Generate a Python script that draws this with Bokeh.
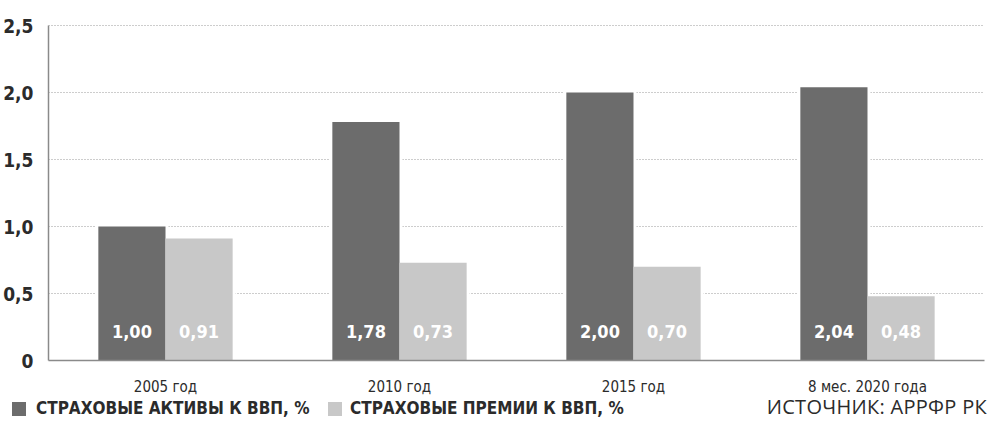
from bokeh.plotting import figure
from bokeh.layouts import column
from bokeh.models import (FactorRange, Range1d, FixedTicker, ColumnDataSource,
                          CustomJSTickFormatter, Div)
from bokeh.transform import dodge
from bokeh.core.properties import value
from bokeh.embed import file_html
from bokeh.resources import INLINE

# ---- data ----
categories = ["2005 год", "2010 год", "2015 год", "8 мес. 2020 года"]
assets = [1.00, 1.78, 2.00, 2.04]
premiums = [0.91, 0.73, 0.70, 0.48]
asset_labels = ["1,00", "1,78", "2,00", "2,04"]
premium_labels = ["0,91", "0,73", "0,70", "0,48"]
series_names = ["СТРАХОВЫЕ АКТИВЫ К ВВП, %", "СТРАХОВЫЕ ПРЕМИИ К ВВП, %"]
y_ticks = [0, 0.5, 1.0, 1.5, 2.0, 2.5]
y_tick_labels = ["0", "0,5", "1,0", "1,5", "2,0", "2,5"]
source_note = "ИСТОЧНИК: АРРФР РК"

# ---- style ----
NARROW = "DejaVu Sans Condensed"
DARK = "#6c6c6c"
LIGHT = "#c8c8c8"
TEXT = "#2b2b2b"
AXIS = "#8a8a8a"
W = 989
H_MAIN, H_LEG = 398, 23
BW = 0.287
LABEL_Y = 0.22

src = ColumnDataSource(dict(
    cat=categories,
    assets=assets,
    premiums=premiums,
    assets_pad=[v + 0.015 for v in assets],
    premiums_pad=[v + 0.015 for v in premiums],
    al=asset_labels,
    pl=premium_labels,
    ly=[LABEL_Y] * len(categories),
))

p = figure(x_range=FactorRange(*categories), y_range=Range1d(0, 2.515),
           width=W, height=H_MAIN, output_backend="svg", toolbar_location=None,
           min_border_left=47, min_border_right=5, min_border_top=23, min_border_bottom=38)
p.outline_line_color = None

# white halos so the dotted grid stops short of the bars
p.vbar(x=dodge("cat", -BW / 2, range=p.x_range), top="assets_pad", width=BW + 0.025,
       source=src, fill_color="white", line_color=None)
p.vbar(x=dodge("cat", BW / 2, range=p.x_range), top="premiums_pad", width=BW + 0.025,
       source=src, fill_color="white", line_color=None)

p.vbar(x=dodge("cat", -BW / 2, range=p.x_range), top="assets", width=BW,
       source=src, fill_color=DARK, line_color=None)
p.vbar(x=dodge("cat", BW / 2, range=p.x_range), top="premiums", width=BW,
       source=src, fill_color=LIGHT, line_color=None)

for off, col in ((-BW / 2, "al"), (BW / 2, "pl")):
    p.text(x=dodge("cat", off, range=p.x_range), y="ly", text=col, source=src,
           text_align="center", text_baseline="middle", text_color="white",
           text_font=value(NARROW), text_font_style="bold", text_font_size="18px")

# axes
p.yaxis.ticker = FixedTicker(ticks=y_ticks)
p.yaxis.formatter = CustomJSTickFormatter(args=dict(tv=y_ticks, tl=y_tick_labels), code="""
    for (let i = 0; i < tv.length; i++) { if (Math.abs(tv[i] - tick) < 1e-9) return tl[i]; }
    return '';
""")
p.yaxis.bounds = (0, 2.5)
p.yaxis.axis_line_color = AXIS
p.yaxis.axis_line_width = 1.5
p.yaxis.major_tick_line_color = None
p.yaxis.minor_tick_line_color = None
p.yaxis.major_label_standoff = 9
p.yaxis.major_label_text_font = NARROW
p.yaxis.major_label_text_font_style = "bold"
p.yaxis.major_label_text_font_size = "19px"
p.yaxis.major_label_text_color = TEXT

p.xaxis.axis_line_color = AXIS
p.xaxis.axis_line_width = 1.5
p.xaxis.major_tick_line_color = None
p.xaxis.minor_tick_line_color = None
p.xaxis.major_label_standoff = 11
p.xaxis.major_label_text_font = NARROW
p.xaxis.major_label_text_font_size = "15px"
p.xaxis.major_label_text_color = TEXT

p.xgrid.grid_line_color = None
p.ygrid.grid_line_color = "#9a9a9a"
p.ygrid.grid_line_dash = "1 2"
p.ygrid.grid_line_width = 1.2

# ---- legend row (HTML, real text) ----
sq = "position:absolute;top:4px;width:14px;height:14px;"
lab = (f"position:absolute;top:0px;font-family:'{NARROW}';font-weight:bold;"
       "font-size:17px;line-height:20px;white-space:nowrap;")
legend_html = f"""
<div style="position:relative;width:{W}px;height:{H_LEG}px;color:{TEXT};">
  <span style="{sq}left:12px;background:{DARK};"></span>
  <span style="{lab}left:36px;">{series_names[0]}</span>
  <span style="{sq}left:328px;background:{LIGHT};"></span>
  <span style="{lab}left:350px;">{series_names[1]}</span>
  <span style="position:absolute;right:2px;top:-2px;font-family:'Open Sans';font-size:20px;
               line-height:22px;white-space:nowrap;letter-spacing:0.3px;">{source_note}</span>
</div>
"""
leg = Div(text=legend_html, width=W, height=H_LEG, margin=(0, 0, 0, 0))

layout = column(p, leg, spacing=0)
open("out.html", "w").write(file_html(layout, INLINE))
